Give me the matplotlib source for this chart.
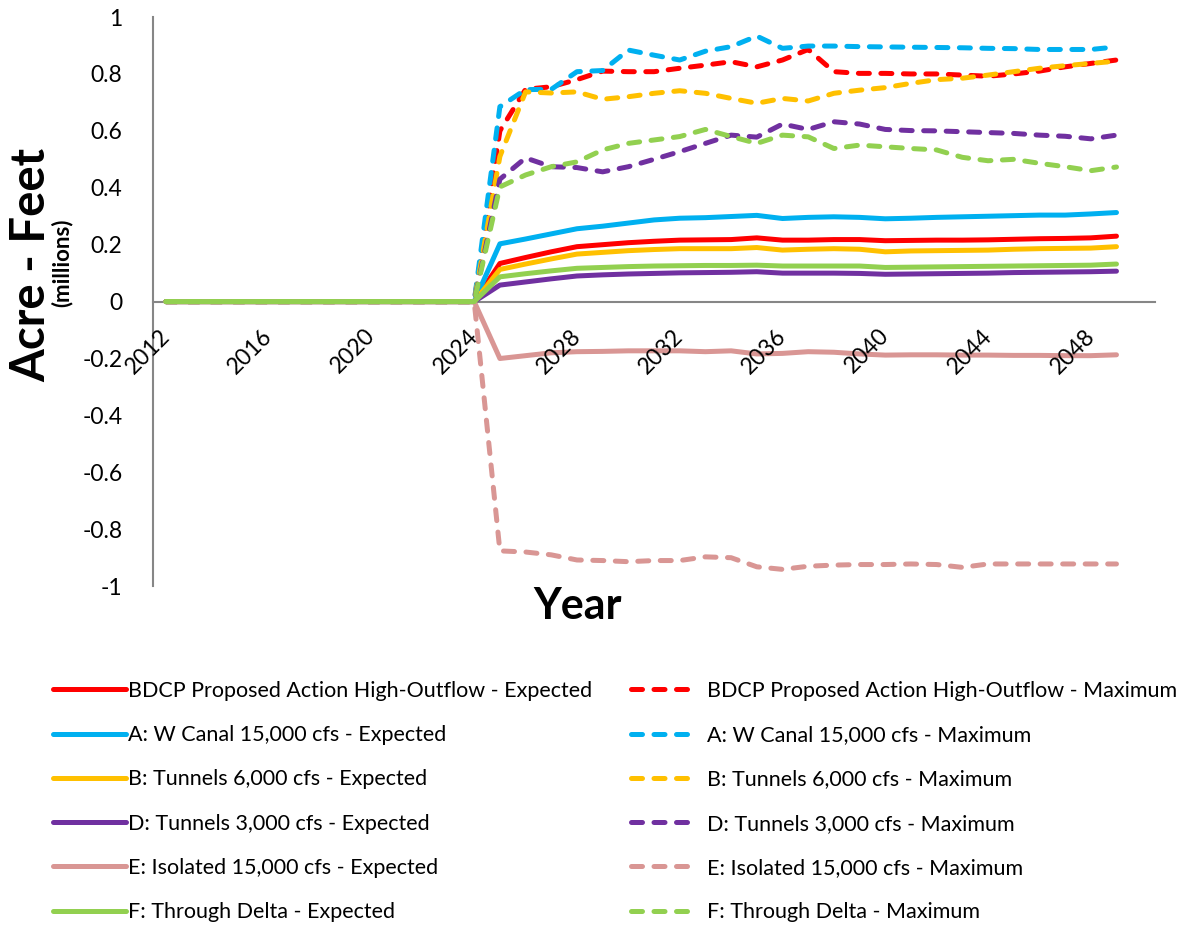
import matplotlib.pyplot as plt
from matplotlib.transforms import ScaledTranslation

plt.rcParams['font.family'] = ['Lato', 'DejaVu Sans']

years = list(range(2012, 2050))
pre = [0.0] * 13  # 2012-2024 are all zero

bdcp_exp = pre + [0.134, 0.155, 0.175, 0.193, 0.200, 0.207, 0.212, 0.216, 0.217, 0.218, 0.224, 0.216, 0.216,
                  0.218, 0.218, 0.214, 0.215, 0.216, 0.216, 0.217, 0.219, 0.221, 0.222, 0.224, 0.230]
bdcp_max = pre + [0.600, 0.746, 0.755, 0.780, 0.810, 0.808, 0.808, 0.820, 0.831, 0.843, 0.825, 0.849, 0.886,
                  0.808, 0.802, 0.802, 0.800, 0.800, 0.796, 0.792, 0.800, 0.810, 0.825, 0.837, 0.849]
a_exp = pre + [0.203, 0.220, 0.238, 0.256, 0.265, 0.276, 0.287, 0.293, 0.295, 0.299, 0.303, 0.292, 0.296,
               0.298, 0.296, 0.291, 0.293, 0.296, 0.298, 0.300, 0.302, 0.304, 0.304, 0.308, 0.313]
a_max = pre + [0.685, 0.745, 0.746, 0.808, 0.812, 0.884, 0.866, 0.849, 0.880, 0.896, 0.933, 0.890, 0.898,
               0.898, 0.896, 0.895, 0.894, 0.893, 0.892, 0.890, 0.889, 0.886, 0.886, 0.886, 0.895]
b_exp = pre + [0.113, 0.132, 0.150, 0.167, 0.173, 0.179, 0.183, 0.186, 0.186, 0.186, 0.190, 0.181, 0.184,
               0.186, 0.184, 0.175, 0.178, 0.179, 0.180, 0.181, 0.184, 0.186, 0.187, 0.188, 0.193]
b_max = pre + [0.510, 0.737, 0.733, 0.737, 0.711, 0.720, 0.732, 0.741, 0.732, 0.714, 0.697, 0.714, 0.705,
               0.732, 0.743, 0.752, 0.767, 0.780, 0.785, 0.796, 0.808, 0.820, 0.829, 0.837, 0.845]
d_exp = pre + [0.058, 0.069, 0.080, 0.090, 0.094, 0.097, 0.099, 0.101, 0.102, 0.103, 0.105, 0.100, 0.100,
               0.100, 0.099, 0.096, 0.097, 0.098, 0.099, 0.100, 0.102, 0.103, 0.104, 0.105, 0.107]
d_max = pre + [0.430, 0.505, 0.474, 0.471, 0.456, 0.474, 0.500, 0.527, 0.556, 0.585, 0.578, 0.624, 0.605,
               0.632, 0.624, 0.605, 0.601, 0.600, 0.597, 0.594, 0.591, 0.585, 0.581, 0.572, 0.585]
e_exp = pre + [-0.200, -0.190, -0.180, -0.176, -0.175, -0.173, -0.173, -0.173, -0.176, -0.173, -0.184, -0.182, -0.176,
               -0.178, -0.184, -0.188, -0.187, -0.187, -0.188, -0.188, -0.189, -0.189, -0.190, -0.190, -0.187]
e_max = pre + [-0.876, -0.880, -0.890, -0.908, -0.910, -0.914, -0.910, -0.910, -0.897, -0.900, -0.932, -0.941, -0.930,
               -0.926, -0.924, -0.924, -0.922, -0.924, -0.934, -0.922, -0.922, -0.922, -0.922, -0.922, -0.922]
f_exp = pre + [0.087, 0.098, 0.108, 0.117, 0.120, 0.123, 0.125, 0.126, 0.127, 0.127, 0.128, 0.125, 0.125,
               0.125, 0.125, 0.120, 0.121, 0.122, 0.123, 0.124, 0.125, 0.126, 0.127, 0.128, 0.132]
f_max = pre + [0.403, 0.445, 0.474, 0.491, 0.533, 0.556, 0.568, 0.580, 0.605, 0.580, 0.556, 0.585, 0.579,
               0.538, 0.550, 0.544, 0.538, 0.533, 0.507, 0.495, 0.500, 0.486, 0.474, 0.460, 0.473]

names = ["BDCP Proposed Action High-Outflow", "A: W Canal 15,000 cfs", "B: Tunnels 6,000 cfs",
         "D: Tunnels 3,000 cfs", "E: Isolated 15,000 cfs", "F: Through Delta"]
colors = ["#FF0000", "#00B0F0", "#FFC000", "#7030A0", "#D99694", "#92D050"]
expected = [bdcp_exp, a_exp, b_exp, d_exp, e_exp, f_exp]
maximum = [bdcp_max, a_max, b_max, d_max, e_max, f_max]

fig = plt.figure(figsize=(11.81, 9.26), dpi=100)
ax = fig.add_axes([0.1296, 0.367, 0.8484, 0.6146])

lw = 3.6
dash = (2.2, 2.3)
exp_handles, max_handles = [], []
for name, c, ye, ym in zip(names, colors, expected, maximum):
  h1, = ax.plot(years, ye, color=c, lw=lw, solid_capstyle='round', solid_joinstyle='round',
                label=name + " - Expected")
  h2, = ax.plot(years, ym, color=c, lw=lw, ls=(0, dash), dash_capstyle='round',
                dash_joinstyle='round', label=name + " - Maximum")
  exp_handles.append(h1)
  max_handles.append(h2)

# spines first: moving the bottom spine resets the ticks
for s in ['top', 'right']:
  ax.spines[s].set_visible(False)
ax.spines['left'].set_color('#868686')
ax.spines['left'].set_linewidth(1.5)
ax.spines['bottom'].set_position(('data', 0))
ax.spines['bottom'].set_color('#868686')
ax.spines['bottom'].set_linewidth(1.5)
ax.spines['bottom'].set_zorder(1)

ax.set_xlim(2011.5, 2050.5)
ax.set_ylim(-1, 1)
ax.set_yticks([-1, -0.8, -0.6, -0.4, -0.2, 0, 0.2, 0.4, 0.6, 0.8, 1])
ax.set_yticklabels(["-1", "-0.8", "-0.6", "-0.4", "-0.2", "0", "0.2", "0.4", "0.6", "0.8", "1"])
ax.set_xticks(range(2012, 2050, 4))
ax.set_xticklabels([str(y) for y in range(2012, 2050, 4)])
ax.tick_params(axis='both', length=0, labelsize=16.5, colors='black')
ax.tick_params(axis='y', pad=22)
ax.tick_params(axis='x', pad=4)
shift = ScaledTranslation(-7 / 100, -18 / 100, fig.dpi_scale_trans)
for lab in ax.get_xticklabels():
  lab.set_rotation(45)
  lab.set_ha('right')
  lab.set_va('top')
  lab.set_rotation_mode('anchor')
  lab.set_transform(lab.get_transform() + shift)
ax.xaxis.set_zorder(3)  # year labels sit on top of the lines

fig.text(578 / 1181, 1 - 606 / 926, "Year", fontsize=31, fontweight='bold', ha='center', va='center')
fig.text(31 / 1181, 1 - 265 / 926, "Acre - Feet", fontsize=34, fontweight='bold', rotation=90,
         ha='center', va='center')
fig.text(62 / 1181, 1 - 263 / 926, "(millions)", fontsize=16, fontweight='bold', rotation=90,
         ha='center', va='center')

leg_kw = dict(frameon=False, fontsize=15.5, labelspacing=1.125, borderaxespad=0, borderpad=0)
fig.legend(handles=exp_handles, loc='upper left', bbox_to_anchor=(52.5 / 1181, 1 - 681 / 926),
           handlelength=3.4, handletextpad=0.12, **leg_kw)
fig.legend(handles=max_handles, loc='upper left', bbox_to_anchor=(630.5 / 1181, 1 - 681 / 926),
           handlelength=2.7, handletextpad=0.86, **leg_kw)

fig.savefig("out.png", dpi=100)
